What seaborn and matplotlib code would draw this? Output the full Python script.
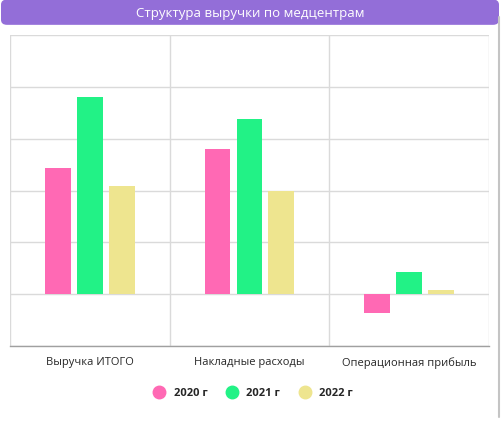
import numpy as np
import pandas as pd
import matplotlib.pyplot as plt
import seaborn as sns
from matplotlib.patches import FancyBboxPatch
from matplotlib.lines import Line2D

# data (arbitrary units)
categories = ["Выручка ИТОГО", "Накладные расходы", "Операционная прибыль"]
years = ["2020 г", "2021 г", "2022 г"]
v2020 = [244, 280, -37]
v2021 = [381, 337, 43]
v2022 = [209, 200, 8]
colors = ["#FF69B4", "#22F286", "#EEE58F"]

df = pd.DataFrame({
    "cat": categories * 3,
    "year": [years[0]] * 3 + [years[1]] * 3 + [years[2]] * 3,
    "value": v2020 + v2021 + v2022,
})

sns.set_style("white")
plt.rcParams["font.family"] = ["Open Sans", "DejaVu Sans"]

fig = plt.figure(figsize=(5.01, 4.21), dpi=100)
fig.patch.set_facecolor("white")

# card shadow on the right + title bar
fig.lines.append(Line2D([0.996, 0.996], [0.01, 0.96], transform=fig.transFigure,
                        color="#c4c4c4", lw=1.5))
fig.patches.append(FancyBboxPatch((0.002, 0.941), 0.994, 0.06, boxstyle="round,pad=0,rounding_size=0.012",
                                  transform=fig.transFigure, facecolor="#936ED8", edgecolor="none", zorder=1))
fig.text(0.5, 0.969, "Структура выручки по медцентрам", color="white", fontsize=9.5,
         ha="center", va="center")

ax = fig.add_axes([0.02, 0.178, 0.956, 0.739])
sns.barplot(data=df, x="cat", y="value", hue="year", palette=colors, order=categories,
            hue_order=years, width=0.6, gap=0.19, ax=ax, legend=False, saturation=1,
            linewidth=0)

ax.set_ylim(-100, 500)
ax.set_xlim(-0.5, 2.5)
ax.set_yticks(np.arange(-100, 501, 100))
ax.set_yticklabels([])
ax.set_xticks([0, 1, 2])
ax.set_xticklabels(categories, fontsize=8)
ax.set_xticks([-0.5, 0.5, 1.5, 2.5], minor=True)
ax.tick_params(axis="both", length=0, pad=8)
ax.tick_params(axis="x", which="minor", length=0)
ax.set_xlabel("")
ax.set_ylabel("")
ax.set_axisbelow(True)
ax.grid(axis="y", color="#dadada", lw=1)
ax.grid(axis="x", which="minor", color="#dadada", lw=1)
for s in ["top", "left", "right"]:
    ax.spines[s].set_visible(False)
ax.spines["bottom"].set_color("#a0a0a0")
ax.spines["bottom"].set_linewidth(1)

handles = [Line2D([0], [0], marker="o", ls="", markersize=9, markerfacecolor=c, markeredgecolor=c)
           for c in colors]
leg = fig.legend(handles, years, loc="center", bbox_to_anchor=(0.5, 0.065), ncol=3, frameon=False,
                 prop={"size": 8, "weight": "bold"}, handletextpad=0.3, columnspacing=1.2)

fig.savefig("out.png", dpi=100)
